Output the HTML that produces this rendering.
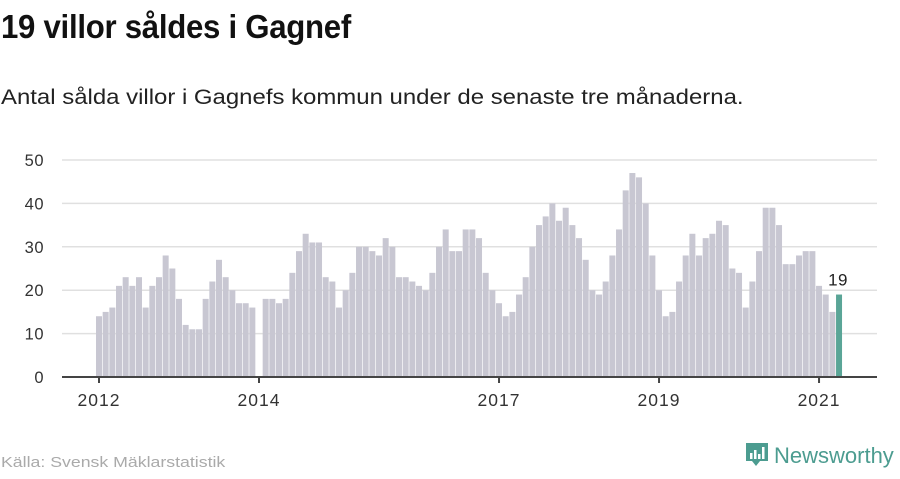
<!DOCTYPE html>
<html><head><meta charset="utf-8">
<style>
body{margin:0;width:900px;height:474px;background:#fff;font-family:"Liberation Sans",sans-serif;overflow:hidden;position:relative}
#title{position:absolute;left:1px;top:8px;font-family:"Liberation Sans Narrow","Liberation Sans",sans-serif;font-weight:bold;font-size:33px;color:#111;letter-spacing:-0.3px;transform:scaleX(0.945);transform-origin:left}
#sub{position:absolute;left:1px;top:86px;font-size:21px;color:#222;white-space:nowrap;transform:scaleX(1.14);transform-origin:left}
#src{position:absolute;left:1px;top:454px;font-size:15px;color:#aaa;white-space:nowrap;transform:scaleX(1.18);transform-origin:left}
#logo{position:absolute;left:745px;top:440px}
</style></head><body>
<div id="title">19 villor såldes i Gagnef</div>
<div id="sub">Antal sålda villor i Gagnefs kommun under de senaste tre månaderna.</div>
<svg id="chart" width="900" height="474" style="position:absolute;left:0;top:0"></svg>
<div id="src">Källa: Svensk Mäklarstatistik</div>
<div id="logo">
<svg width="155" height="34"><path d="M1 3h22v18h-8l-4 5-4-5H1z" fill="#4c9c90"/><rect x="5" y="13" width="2.5" height="6" fill="#fff"/><rect x="9" y="10" width="2.5" height="9" fill="#fff"/><rect x="13" y="14" width="2.5" height="5" fill="#fff"/><rect x="17" y="7" width="2.5" height="12" fill="#fff"/><text x="29" y="23" font-family="Liberation Sans" font-size="22" fill="#4c9c90">Newsworthy</text></svg></div>
<script>
const values=[14,15,16,21,23,21,23,16,21,23,28,25,
18,12,11,11,18,22,27,23,20,17,17,16,
null,18,18,17,18,24,29,33,31,31,23,22,
16,20,24,30,30,29,28,32,30,23,23,22,
21,20,24,30,34,29,29,34,34,32,24,20,
17,14,15,19,23,30,35,37,40,36,39,35,
32,27,20,19,22,28,34,43,47,46,40,28,
20,14,15,22,28,33,28,32,33,36,35,25,
24,16,22,29,39,39,35,26,26,28,29,29,
21,19,15,19];
const yTicks=[0,10,20,30,40,50];
const xTickLabels=["2012","2014","2017","2019","2021"];
const xTickIdx=[0,24,60,84,108];
const ns="http://www.w3.org/2000/svg";
const svg=document.getElementById('chart');
const x0=99,step=6.667,y0=377,pxPerUnit=4.34;
const xs=i=>x0+i*step;
const ys=v=>y0-v*pxPerUnit;
function mk(t,a){const e=document.createElementNS(ns,t);for(const k in a)e.setAttribute(k,a[k]);svg.appendChild(e);return e;}
yTicks.forEach(t=>{
 if(t>0){const l=mk('line',{x1:62,x2:877,y1:ys(t),y2:ys(t),stroke:'#e0e0e0','stroke-width':1.5});
 
 }
 const tx=mk('text',{x:44,y:ys(t)+6,'text-anchor':'end','font-size':16.5,'letter-spacing':0.5,fill:'#333','font-family':'Liberation Sans'});
 tx.textContent=t;
 
 
});
values.forEach((v,i)=>{
 if(v==null)return;
 const last=i===values.length-1;
 const r=mk('rect',{x:xs(i)-3,y:ys(v),width:6,height:v*pxPerUnit,fill:last?'#5aa597':'#c8c7d2'});
 
 
 if(last){const t=mk('text',{x:xs(i)-1,y:ys(v)-9,'text-anchor':'middle','font-size':17,'letter-spacing':0.5,fill:'#222','font-family':'Liberation Sans'});t.textContent=v;
 
 }
});
const ax=mk('line',{x1:62,x2:877,y1:y0,y2:y0,stroke:'#444','stroke-width':2});


xTickIdx.forEach((ix,k)=>{
 const l=mk('line',{x1:xs(ix),x2:xs(ix),y1:y0,y2:y0+6,stroke:'#444','stroke-width':2});
 
 
 const t=mk('text',{x:xs(ix),y:406,'text-anchor':'middle','font-size':17.5,'letter-spacing':1,fill:'#333','font-family':'Liberation Sans'});
 t.textContent=xTickLabels[k];
 
 
});
</script>
</body></html>
